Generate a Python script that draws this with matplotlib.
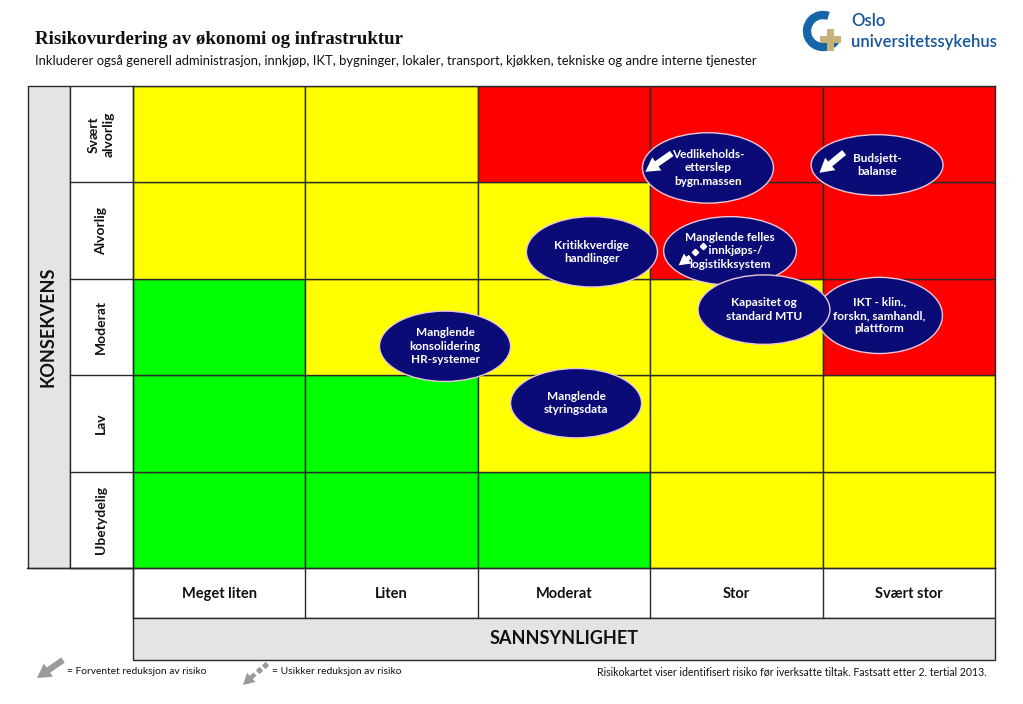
import matplotlib
matplotlib.use("Agg")
import matplotlib.pyplot as plt
from matplotlib.patches import Ellipse, Rectangle, Arc
import numpy as np

# ---------------- data ----------------
likelihood_labels = ["Meget liten", "Liten", "Moderat", "Stor", "Svært stor"]
consequence_labels = ["Ubetydelig", "Lav", "Moderat", "Alvorlig", "Svært\nalvorlig"]  # bottom -> top

# cell colours, rows bottom (Ubetydelig) -> top (Svært alvorlig)
cell_levels = [
    ["G", "G", "G", "Y", "Y"],
    ["G", "G", "Y", "Y", "Y"],
    ["G", "Y", "Y", "Y", "R"],
    ["Y", "Y", "Y", "R", "R"],
    ["Y", "Y", "R", "R", "R"],
]
level_colors = {"G": "#00ff00", "Y": "#ffff00", "R": "#ff0000"}

risk_names = [
    "IKT - klin.,\nforskn, samhandl,\nplattform",
    "Vedlikeholds-\netterslep\nbygn.massen",
    "Budsjett-\nbalanse",
    "Manglende felles\n    innkjøps-/\nlogistikksystem",
    "Kapasitet og\nstandard MTU",
    "Kritikkverdige\nhandlinger",
    "Manglende\nkonsolidering\nHR-systemer",
    "Manglende\nstyringsdata",
]
risk_likelihood = [4.33, 3.335, 4.316, 3.463, 3.66, 2.662, 1.81, 2.57]
risk_consequence = [2.62, 4.15, 4.18, 3.29, 2.68, 3.28, 2.30, 1.71]
risk_w = [0.73, 0.76, 0.765, 0.77, 0.765, 0.76, 0.76, 0.76]
risk_h = [0.79, 0.73, 0.63, 0.71, 0.72, 0.73, 0.73, 0.72]

# solid arrows: (tail_x, tail_y, tip_x, tip_y)
solid_arrows = [
    (3.125, 4.30, 2.972, 4.11),
    (4.125, 4.31, 3.982, 4.10),
]
# uncertain (dotted) arrow: head tail, tip, and the trailing dots
dotted_arrow = (3.232, 3.23, 3.165, 3.14)
dotted_dots_x = [3.262, 3.305]
dotted_dots_y = [3.275, 3.34]

footer_left1 = "= Forventet reduksjon av risiko"
footer_left2 = "= Usikker reduksjon av risiko"
footer_right = "Risikokartet viser identifisert risiko før iverksatte tiltak. Fastsatt etter 2. tertial 2013."
title = "Risikovurdering av økonomi og infrastruktur"
subtitle = "Inkluderer også generell administrasjon, innkjøp, IKT, bygninger, lokaler, transport, kjøkken, tekniske og andre interne tjenester"

# ---------------- figure ----------------
W, H = 1023, 704
fig = plt.figure(figsize=(W / 100, H / 100), dpi=100)
fig.patch.set_facecolor("white")

SANS = ["Lato", "Open Sans", "DejaVu Sans"]

bg = fig.add_axes([0, 0, 1, 1])
bg.set_xlim(0, W)
bg.set_ylim(H, 0)
bg.axis("off")

gx0, gx1, gy0, gy1 = 133, 995, 86, 568
lc = "#2a2a2a"

bg.add_patch(Rectangle((28, gy0), 42, gy1 - gy0, facecolor="#e4e4e4", edgecolor=lc, lw=1.0))
bg.add_patch(Rectangle((70, gy0), gx0 - 70, gy1 - gy0, facecolor="white", edgecolor=lc, lw=1.0))
bg.add_patch(Rectangle((gx0, gy1), gx1 - gx0, 50, facecolor="white", edgecolor=lc, lw=1.0))
bg.add_patch(Rectangle((gx0, 618), gx1 - gx0, 42, facecolor="#e4e4e4", edgecolor=lc, lw=1.0))
bg.plot([27, gx0], [gy1, gy1], color=lc, lw=1.0)

bg.text(48, (gy0 + gy1) / 2, "KONSEKVENS", rotation=90, ha="center", va="center",
        fontsize=13, fontweight="bold", family=SANS, color="#111111")
bg.text((gx0 + gx1) / 2, 639, "SANNSYNLIGHET", ha="center", va="center",
        fontsize=13, fontweight="bold", family=SANS, color="#111111")

rh = (gy1 - gy0) / 5
for i, lab in enumerate(consequence_labels):
    yc = gy1 - (i + 0.5) * rh
    bg.plot([70, gx0], [gy1 - i * rh, gy1 - i * rh], color=lc, lw=1.0)
    bg.text(101, yc, lab, rotation=90, ha="center", va="center", fontsize=10,
            fontweight="bold", family=SANS, color="#111111", linespacing=1.25)

cw = (gx1 - gx0) / 5
for j, lab in enumerate(likelihood_labels):
    xc = gx0 + (j + 0.5) * cw
    bg.plot([gx0 + j * cw, gx0 + j * cw], [gy1, 618], color=lc, lw=1.0)
    bg.text(xc, 594, lab, ha="center", va="center", fontsize=10.5,
            fontweight="bold", family=SANS, color="#111111")

# title
bg.text(35, 39, title, ha="left", va="center", fontsize=13.6, fontweight="bold",
        family=["Liberation Serif", "DejaVu Serif"], color="#111111")
bg.text(35, 61, subtitle, ha="left", va="center", fontsize=9.4,
        family=SANS, color="#111111")

# logo
blue = "#13549a"
bg.add_patch(Arc((823, 31), 32, 32, theta1=25, theta2=290, lw=6, color="#1565a8"))
bg.add_patch(Rectangle((827, 29), 7, 22, facecolor="#c7b27a", edgecolor="none"))
bg.add_patch(Rectangle((820, 36), 21, 7, facecolor="#c7b27a", edgecolor="none"))
bg.text(851, 21, "Oslo", ha="left", va="center", fontsize=12, fontweight="semibold",
        family=SANS, color=blue)
bg.text(851, 42, "universitetssykehus", ha="left", va="center", fontsize=12,
        fontweight="semibold", family=SANS, color=blue)

# arrow styles
big_style = "simple,head_length=1.0,head_width=1.15,tail_width=0.45"
small_style = "simple,head_length=0.9,head_width=1.0,tail_width=0.35"

# footer
grey = "#9a9a9a"
bg.annotate("", xy=(37, 678), xytext=(63, 660),
            arrowprops=dict(arrowstyle=big_style, color=grey, lw=0, mutation_scale=10,
                            shrinkA=0, shrinkB=0))
bg.text(67, 672, footer_left1, ha="left", va="center", fontsize=7.4, family=SANS, color="#111111")
bg.annotate("", xy=(243, 685), xytext=(255, 674),
            arrowprops=dict(arrowstyle=small_style, color=grey, lw=0, mutation_scale=9,
                            shrinkA=0, shrinkB=0))
bg.plot([259, 265], [670, 665], ls="none", marker="D", ms=2.8, color=grey)
bg.text(272, 672, footer_left2, ha="left", va="center", fontsize=7.4, family=SANS, color="#111111")
bg.text(987, 672, footer_right, ha="right", va="center", fontsize=7.6, family=SANS, color="#111111")

# ---------------- main matrix axes ----------------
ax = fig.add_axes([gx0 / W, 1 - gy1 / H, (gx1 - gx0) / W, (gy1 - gy0) / H])
ax.set_xlim(0, 5)
ax.set_ylim(0, 5)
ax.set_xticks([])
ax.set_yticks([])
for s in ax.spines.values():
    s.set_color(lc)
    s.set_linewidth(1.0)

for r, row in enumerate(cell_levels):
    for c, lvl in enumerate(row):
        ax.add_patch(Rectangle((c, r), 1, 1, facecolor=level_colors[lvl], edgecolor=lc, lw=1.0, zorder=1))

navy = "#0b0b78"
for k in range(len(risk_names)):
    ax.add_patch(Ellipse((risk_likelihood[k], risk_consequence[k]), risk_w[k], risk_h[k],
                         facecolor=navy, edgecolor="#e8c8d8", lw=1.0, zorder=3 + k * 0.01))
for k in range(len(risk_names)):
    ax.text(risk_likelihood[k], risk_consequence[k], risk_names[k],
            ha="center", va="center", color="white", fontsize=8.5, fontweight="bold",
            family=SANS, linespacing=1.28, zorder=5)

for tx, ty, hx, hy in solid_arrows:
    ax.annotate("", xy=(hx, hy), xytext=(tx, ty), zorder=6,
                arrowprops=dict(arrowstyle=big_style, color="white", lw=0, mutation_scale=10,
                                shrinkA=0, shrinkB=0))

tx, ty, hx, hy = dotted_arrow
ax.annotate("", xy=(hx, hy), xytext=(tx, ty), zorder=6,
            arrowprops=dict(arrowstyle=small_style, color="white", lw=0, mutation_scale=9,
                            shrinkA=0, shrinkB=0))
ax.plot(dotted_dots_x, dotted_dots_y, ls="none", marker="D", ms=3.2, color="white", zorder=6)

fig.savefig("out.png", dpi=100, facecolor="white")
